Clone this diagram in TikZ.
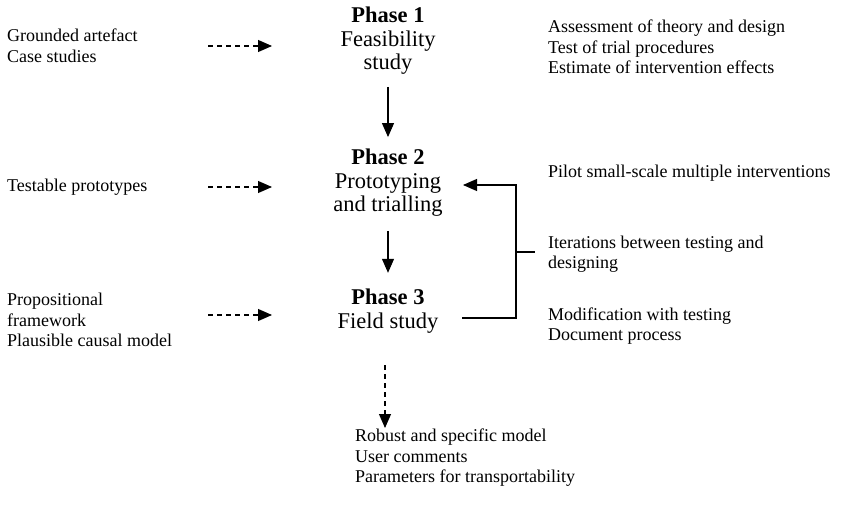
\documentclass[tikz,border=0pt]{standalone}
\usepackage{fontspec}
\setmainfont{Liberation Serif}
\usetikzlibrary{arrows.meta}
\begin{document}
\begin{tikzpicture}[x=1pt,y=-1pt,
  side/.style={font=\fontsize{18}{20.5}\selectfont,align=left,anchor=west,inner sep=0pt},
  phase/.style={font=\fontsize{22.5}{23.5}\selectfont,align=center,inner sep=0pt},
  solidarrow/.style={line width=1.1pt,-{Triangle[length=14pt,width=12pt]}},
  dasharrow/.style={line width=1.1pt,dash pattern=on 5pt off 4pt,-{Triangle[length=14pt,width=12pt]}},
  plain/.style={line width=1.1pt}]
\useasboundingbox (0,0) rectangle (861,521);
% center phases
\node[phase] (p1) at (388,41) {\textbf{Phase 1}\\Feasibility\\study};
\node[phase] (p2) at (388,183) {\textbf{Phase 2}\\Prototyping\\and trialling};
\node[phase] (p3) at (388,311) {\textbf{Phase 3}\\Field study};
% left
\node[side] (l1) at (7,46) {Grounded artefact\\Case studies};
\node[side] (l2) at (7,187) {Testable prototypes};
\node[side] (l3) at (7,320) {Propositional\\framework\\Plausible causal model};
% right
\node[side] (r1) at (548,47) {Assessment of theory and design\\Test of trial procedures\\Estimate of intervention effects};
\node[side] (r2) at (548,173) {Pilot small-scale multiple interventions};
\node[side] (r3) at (548,254) {Iterations between testing and\\designing};
\node[side] (r4) at (548,326) {Modification with testing\\Document process};
% bottom
\node[side] (b1) at (355,458) {Robust and specific model\\User comments\\Parameters for transportability};
% arrows
\draw[solidarrow,shorten <=12pt,shorten >=12pt] (p1.south) -- (p2.north);
\draw[solidarrow,shorten <=14pt,shorten >=16pt] (p2.south) -- (p3.north);
\coordinate (d1s) at (208,46); \coordinate (d1e) at (272,46);
\coordinate (d2s) at (208,187); \coordinate (d2e) at (272,187);
\coordinate (d3s) at (208,315); \coordinate (d3e) at (272,315);
\draw[dasharrow] (d1s) -- (d1e);
\draw[dasharrow] (d2s) -- (d2e);
\draw[dasharrow] (d3s) -- (d3e);
\coordinate (d4s) at (385,365); \coordinate (d4e) at (385,428);
\draw[dasharrow] (d4s) -- (d4e);
% feedback loop
\coordinate (fb1) at (462,318);
\coordinate (fb2) at (516,318);
\coordinate (fb3) at (463,185);
\coordinate (tk1) at (516,252);
\coordinate (tk2) at (535,252);
\draw[solidarrow] (fb1) -- (fb2) |- (fb3);
\draw[plain] (tk1) -- (tk2);
\end{tikzpicture}
\end{document}
